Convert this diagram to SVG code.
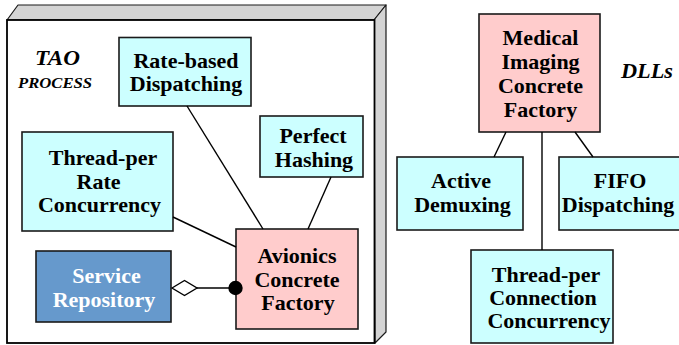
<svg xmlns="http://www.w3.org/2000/svg" width="679" height="345" viewBox="0 0 679 345">
  <style>
    .box { stroke: #1a1a1a; stroke-width: 1.6; }
    .comp { fill: #ccffff; }
    .fact { fill: #ffcccc; }
    .repo { fill: #6699cc; }
    .t { font-family: "Liberation Serif", "Times New Roman", serif; font-weight: bold; font-size: 22px; fill: #000; text-anchor: middle; }
    .w { fill: #ffffff; }
    .lbl { font-family: "Liberation Serif", "Times New Roman", serif; font-weight: bold; font-style: italic; fill: #000; }
    .link { stroke: #000; stroke-width: 1.4; fill: none; }
    .face { fill: #d4d4d4; stroke: #1a1a1a; stroke-width: 1.2; stroke-linejoin: round; }
  </style>

  <rect width="679" height="345" fill="#ffffff"/>

  <!-- TAO process: 3D box -->
  <g id="tao-process">
    <polygon class="face" points="7,20 18,5 386,5 374,20"/>
    <polygon class="face" points="374,20 386,5 386,332 375,343"/>
    <rect x="7" y="20" width="367.5" height="323" fill="#ffffff" stroke="#000" stroke-width="1.8"/>
    <text class="lbl" x="35" y="65" font-size="20" textLength="45" lengthAdjust="spacingAndGlyphs">TAO</text>
    <text class="lbl" x="18" y="88" font-size="15" textLength="74" lengthAdjust="spacingAndGlyphs">PROCESS</text>
  </g>

  <text id="dlls-label" class="lbl" x="621" y="78" font-size="20" textLength="52" lengthAdjust="spacingAndGlyphs">DLLs</text>

  <g id="rate-based-dispatching">
    <rect class="box comp" x="119" y="37.5" width="132" height="68.5"/>
    <text class="t" x="186" y="68">Rate-based</text>
    <text class="t" x="186" y="91">Dispatching</text>
  </g>

  <g id="perfect-hashing">
    <rect class="box comp" x="260" y="116" width="103" height="61"/>
    <text class="t" x="313" y="143">Perfect</text>
    <text class="t" x="314" y="167">Hashing</text>
  </g>

  <g id="thread-per-rate">
    <rect class="box comp" x="22" y="132" width="151" height="99"/>
    <text class="t" x="103" y="165">Thread-per</text>
    <text class="t" x="98.5" y="189">Rate</text>
    <text class="t" x="99.5" y="212">Concurrency</text>
  </g>

  <g id="service-repository">
    <rect class="box repo" x="36" y="251" width="135" height="71"/>
    <text class="t w" x="106.5" y="283">Service</text>
    <text class="t w" x="104" y="307">Repository</text>
  </g>

  <g id="avionics-factory">
    <rect class="box fact" x="236" y="229" width="122" height="100"/>
    <text class="t" x="297" y="263">Avionics</text>
    <text class="t" x="297" y="287">Concrete</text>
    <text class="t" x="298" y="310">Factory</text>
  </g>

  <g id="medical-factory">
    <rect class="box fact" x="479" y="14" width="121" height="118"/>
    <text class="t" x="540.5" y="45">Medical</text>
    <text class="t" x="540.5" y="69">Imaging</text>
    <text class="t" x="540.5" y="93">Concrete</text>
    <text class="t" x="540.5" y="117">Factory</text>
  </g>

  <g id="active-demuxing">
    <rect class="box comp" x="397" y="157" width="126" height="73"/>
    <text class="t" x="461" y="188">Active</text>
    <text class="t" x="462.5" y="212">Demuxing</text>
  </g>

  <g id="fifo-dispatching">
    <rect class="box comp" x="559" y="157" width="125" height="73"/>
    <text class="t" x="620" y="188">FIFO</text>
    <text class="t" x="618" y="212">Dispatching</text>
  </g>

  <g id="thread-per-connection">
    <rect class="box comp" x="471" y="250" width="142" height="93"/>
    <text class="t" x="546" y="282">Thread-per</text>
    <text class="t" x="543" y="305">Connection</text>
    <text class="t" x="549" y="328">Concurrency</text>
  </g>

  <!-- connectors, drawn over the boxes so the end dot shows in full -->
  <g id="connectors">
    <line class="link" x1="187" y1="106" x2="263" y2="229"/>
    <line class="link" x1="331" y1="177" x2="308" y2="229"/>
    <line class="link" x1="173" y1="217" x2="236" y2="247"/>
    <line class="link" x1="197" y1="288" x2="236" y2="288"/>
    <polygon points="172,288 184.5,280.5 197,288 184.5,295.5" fill="#ffffff" stroke="#000" stroke-width="1.4"/>
    <circle cx="235.5" cy="288" r="7.2" fill="#000"/>
    <line class="link" x1="506" y1="132" x2="494" y2="157"/>
    <line class="link" x1="542" y1="132" x2="542" y2="250"/>
    <line class="link" x1="575" y1="132" x2="593" y2="157"/>
  </g>
</svg>
